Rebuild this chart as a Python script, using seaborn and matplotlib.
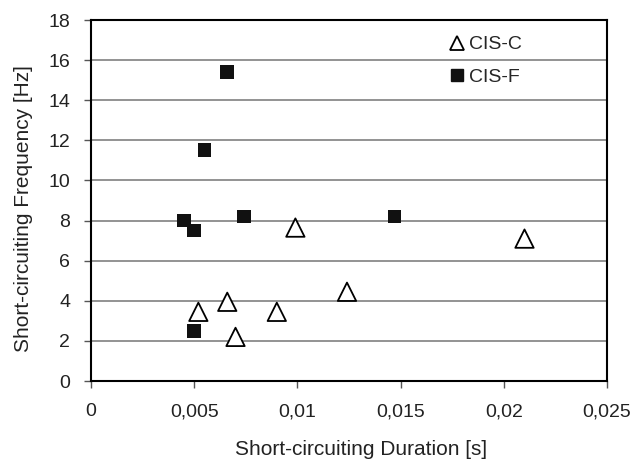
import matplotlib
matplotlib.use("Agg")
import matplotlib.pyplot as plt
import seaborn as sns
import pandas as pd
from matplotlib.ticker import FuncFormatter
from matplotlib.lines import Line2D

cisc_x = [0.0099, 0.0052, 0.0066, 0.0070, 0.0090, 0.0124, 0.0210]
cisc_y = [7.65, 3.45, 3.95, 2.2, 3.45, 4.45, 7.1]
cisf_x = [0.0066, 0.0055, 0.0045, 0.0050, 0.0074, 0.0050, 0.0147]
cisf_y = [15.4, 11.5, 8.0, 7.5, 8.2, 2.5, 8.2]
series_names = ["CIS-C", "CIS-F"]

df = pd.DataFrame({
    "x": cisc_x + cisf_x,
    "y": cisc_y + cisf_y,
    "series": [series_names[0]] * len(cisc_x) + [series_names[1]] * len(cisf_x),
})

sns.set_style("white")
plt.rcParams["font.family"] = ["Liberation Sans", "DejaVu Sans"]

fig = plt.figure(figsize=(6.37, 4.61), dpi=100)
ax = fig.add_axes([0.1429, 0.1735, 0.8101, 0.7831])

sns.scatterplot(data=df, x="x", y="y", hue="series", style="series", size="series",
                markers={"CIS-C": "^", "CIS-F": "s"},
                palette={"CIS-C": "white", "CIS-F": "#111111"},
                sizes={"CIS-C": 175, "CIS-F": 98},
                ax=ax, legend=False, zorder=3)
coll = ax.collections[0]
ec = ["black"] * len(cisc_x) + ["#111111"] * len(cisf_x)
coll.set_edgecolors(ec)
coll.set_linewidths([1.3] * len(cisc_x) + [0.0] * len(cisf_x))

ax.set_xlim(0, 0.025)
ax.set_ylim(0, 18)
ax.set_xticks([0, 0.005, 0.01, 0.015, 0.02, 0.025])
ax.set_yticks(range(0, 19, 2))
ax.xaxis.set_major_formatter(FuncFormatter(lambda v, p: "0" if v == 0 else ("%g" % v).replace(".", ",")))
ax.yaxis.grid(True, color="#808080", linewidth=1.2)
ax.set_axisbelow(True)
for s in ax.spines.values():
    s.set_visible(True)
    s.set_color("black")
    s.set_linewidth(1.5)
ax.tick_params(axis="both", direction="out", length=5, width=1, color="#555555",
               labelsize=14, labelcolor="#222222", bottom=True, left=True)
ax.tick_params(axis="x", pad=11)
ax.tick_params(axis="y", pad=10)
ax.set_xlabel("Short-circuiting Duration [s]", fontsize=15, color="#222222")
ax.set_ylabel("Short-circuiting Frequency [Hz]", fontsize=15, color="#222222")
ax.xaxis.set_label_coords(0.523, -0.163)
ax.yaxis.set_label_coords(-0.113, 0.478)

handles = [Line2D([], [], marker="^", linestyle="", markerfacecolor="white", markeredgecolor="black", markersize=10, markeredgewidth=1.3),
           Line2D([], [], marker="s", linestyle="", markerfacecolor="#111111", markeredgecolor="#111111", markersize=9)]
ax.legend(handles, series_names, loc="upper left", bbox_to_anchor=(0.657, 1.005),
          frameon=False, fontsize=14, handletextpad=0.1, labelspacing=0.75, handlelength=1.0)

fig.savefig("out.png", dpi=100)
